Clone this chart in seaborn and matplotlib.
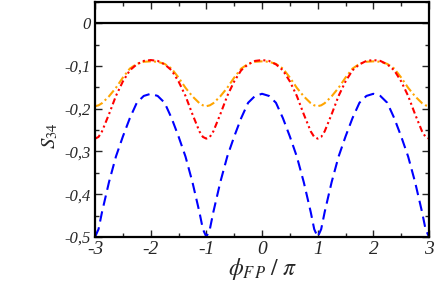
import matplotlib
matplotlib.use("Agg")
import matplotlib.pyplot as plt
import seaborn as sns
import pandas as pd
import numpy as np
from matplotlib.ticker import MultipleLocator, FixedLocator

phi = [-3.0, -2.9375, -2.875, -2.75, -2.625, -2.5, -2.375, -2.25, -2.125,
       -2.0, -1.875, -1.75, -1.625, -1.5, -1.375, -1.25, -1.125, -1.0625,
       -1.0, -0.9375, -0.875, -0.75, -0.625, -0.5, -0.375, -0.25, -0.125,
       0.0, 0.125, 0.25, 0.375, 0.5, 0.625, 0.75, 0.875, 0.9375,
       1.0, 1.0625, 1.125, 1.25, 1.375, 1.5, 1.625, 1.75, 1.875,
       2.0, 2.125, 2.25, 2.375, 2.5, 2.625, 2.75, 2.875, 2.9375, 3.0]

blue = [-0.500, -0.482, -0.442, -0.372, -0.312, -0.265, -0.222, -0.186, -0.170,
        -0.165, -0.170, -0.186, -0.222, -0.265, -0.312, -0.372, -0.442, -0.482,
        -0.500, -0.482, -0.442, -0.372, -0.312, -0.265, -0.222, -0.186, -0.170,
        -0.165, -0.170, -0.186, -0.222, -0.265, -0.312, -0.372, -0.442, -0.482,
        -0.500, -0.482, -0.442, -0.372, -0.312, -0.265, -0.222, -0.186, -0.170,
        -0.165, -0.170, -0.186, -0.222, -0.265, -0.312, -0.372, -0.442, -0.482, -0.500]

orange = [-0.194, -0.192, -0.187, -0.171, -0.151, -0.127, -0.106, -0.095, -0.090,
          -0.089, -0.090, -0.095, -0.106, -0.127, -0.151, -0.171, -0.187, -0.192,
          -0.194, -0.192, -0.187, -0.171, -0.151, -0.127, -0.106, -0.095, -0.090,
          -0.089, -0.090, -0.095, -0.106, -0.127, -0.151, -0.171, -0.187, -0.192,
          -0.194, -0.192, -0.187, -0.171, -0.151, -0.127, -0.106, -0.095, -0.090,
          -0.089, -0.090, -0.095, -0.106, -0.127, -0.151, -0.171, -0.187, -0.192, -0.194]

red = [-0.270, -0.266, -0.253, -0.213, -0.170, -0.136, -0.110, -0.096, -0.088,
       -0.086, -0.088, -0.096, -0.110, -0.136, -0.170, -0.213, -0.253, -0.266,
       -0.270, -0.266, -0.253, -0.213, -0.170, -0.136, -0.110, -0.096, -0.088,
       -0.086, -0.088, -0.096, -0.110, -0.136, -0.170, -0.213, -0.253, -0.266,
       -0.270, -0.266, -0.253, -0.213, -0.170, -0.136, -0.110, -0.096, -0.088,
       -0.086, -0.088, -0.096, -0.110, -0.136, -0.170, -0.213, -0.253, -0.266, -0.270]

zero_x = [-3.0, 3.0]
zero_y = [0.0, 0.0]

xticks = [-3, -2, -1, 0, 1, 2, 3]
yticks = [0.0, -0.1, -0.2, -0.3, -0.4, -0.5]
ytick_labels = ["0", "-0,1", "-0,2", "-0,3", "-0,4", "-0,5"]

sns.set_style("ticks")
plt.rcParams["font.family"] = ["Liberation Serif", "DejaVu Serif"]
plt.rcParams["mathtext.fontset"] = "stix"

fig = plt.figure(figsize=(4.36, 2.81), dpi=100)
ax = fig.add_axes([0.218, 0.157, 0.766, 0.836])

df = pd.DataFrame({"phi": phi, "blue": blue, "orange": orange, "red": red})

sns.lineplot(x=zero_x, y=zero_y, ax=ax, color="black", linewidth=1.6)
sns.lineplot(data=df, x="phi", y="orange", ax=ax, color="#ffa500",
             linewidth=1.5, linestyle=(0, (4, 1.5, 1, 1.5)))
sns.lineplot(data=df, x="phi", y="red", ax=ax, color="#ff0000",
             linewidth=1.5, linestyle=(0, (3, 1.5, 1, 1.5, 1, 1.5)))
sns.lineplot(data=df, x="phi", y="blue", ax=ax, color="#0000ff",
             linewidth=1.5, linestyle=(0, (5, 2.8)))

ax.set_xlim(-3, 3)
ax.set_ylim(-0.5, 0.05)
ax.xaxis.set_major_locator(FixedLocator(xticks))
ax.xaxis.set_minor_locator(MultipleLocator(0.5))
ax.yaxis.set_major_locator(FixedLocator(yticks))
ax.yaxis.set_minor_locator(MultipleLocator(0.05))
ax.set_xticklabels([str(t) for t in xticks], fontsize=14, style="italic")
ax.set_yticklabels(ytick_labels, fontsize=12, style="italic")

ax.tick_params(which="both", direction="in", top=True, right=True, width=1.0)
ax.tick_params(which="major", length=5, pad=3)
ax.tick_params(which="minor", length=3)
for s in ax.spines.values():
    s.set_linewidth(1.6)
    s.set_color("black")

ax.set_xlabel(r"$\phi_{F\,P}\;/\;\pi$", fontsize=17)
ax.xaxis.set_label_coords(0.5, -0.083)
ax.set_ylabel(r"$S_{34}$", fontsize=15)
ax.yaxis.set_label_coords(-0.105, 0.43)

fig.savefig("out.png", dpi=100)
